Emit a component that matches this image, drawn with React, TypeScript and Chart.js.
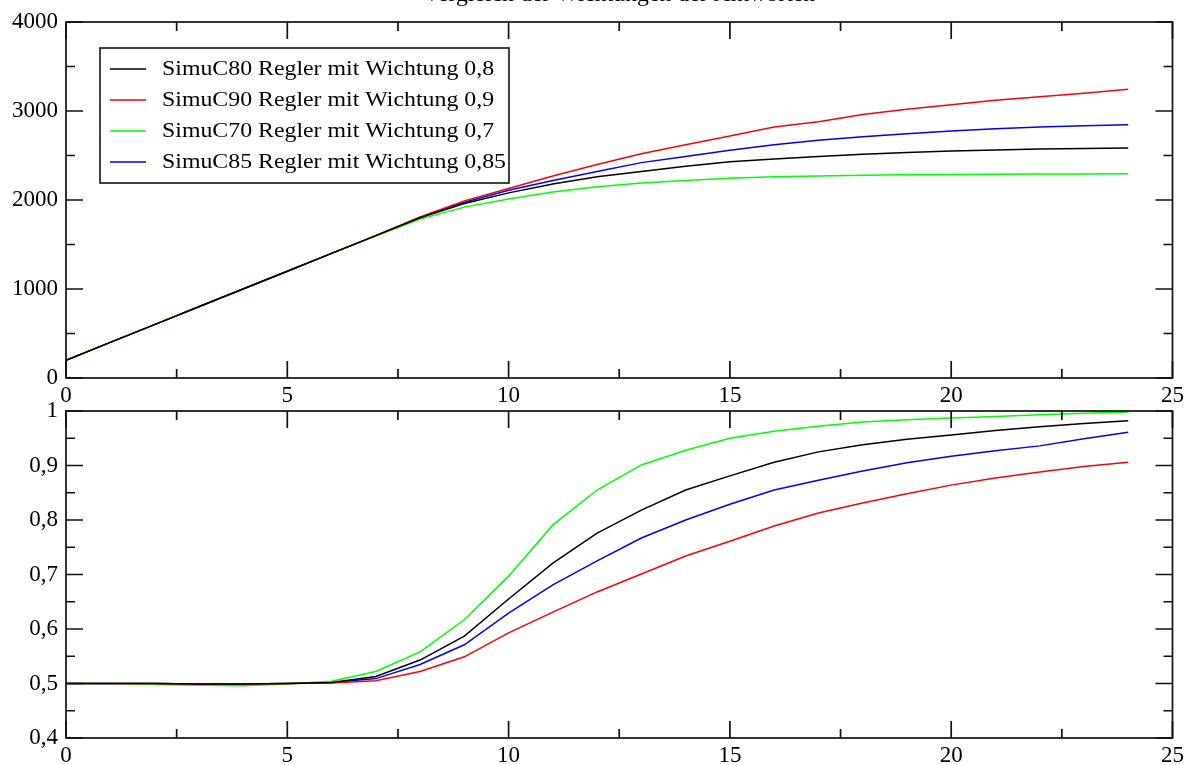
import React, { useEffect, useRef } from "react";
import { Chart, registerables } from "chart.js";

Chart.register(...registerables);

const TITLE = "Vergleich der Wichtungen der Antworten";

const xValues = [0, 1, 2, 3, 4, 5, 6, 7, 8, 9, 10, 11, 12, 13, 14, 15, 16, 17, 18, 19, 20, 21, 22, 23, 24];

const seriesLabels = [
  "SimuC80 Regler mit Wichtung 0,8",
  "SimuC90 Regler mit Wichtung 0,9",
  "SimuC70 Regler mit Wichtung 0,7",
  "SimuC85 Regler mit Wichtung 0,85",
];
const seriesColors = ["#000000", "#ff0000", "#00ff00", "#0000ff"];

// top panel
const topC80 = [200, 400, 600, 800, 1000, 1200, 1400, 1600, 1800, 1960, 2080, 2180, 2260, 2320, 2380, 2430, 2460, 2490, 2515, 2535, 2550, 2562, 2572, 2580, 2585];
const topC90 = [200, 400, 600, 800, 1000, 1200, 1400, 1600, 1810, 1990, 2130, 2270, 2400, 2520, 2620, 2720, 2820, 2880, 2960, 3020, 3070, 3120, 3160, 3200, 3245];
const topC70 = [200, 400, 600, 800, 1000, 1200, 1400, 1595, 1785, 1920, 2010, 2090, 2150, 2190, 2220, 2245, 2260, 2270, 2278, 2283, 2287, 2290, 2292, 2293, 2294];
const topC85 = [200, 400, 600, 800, 1000, 1200, 1400, 1600, 1805, 1975, 2110, 2220, 2320, 2420, 2490, 2560, 2620, 2670, 2710, 2745, 2775, 2800, 2820, 2835, 2845];

// bottom panel
const botC80 = [0.5, 0.5, 0.5, 0.499, 0.499, 0.5, 0.502, 0.513, 0.543, 0.587, 0.655, 0.721, 0.776, 0.818, 0.855, 0.881, 0.906, 0.925, 0.938, 0.948, 0.956, 0.964, 0.971, 0.977, 0.982];
const botC90 = [0.5, 0.5, 0.5, 0.499, 0.499, 0.5, 0.501, 0.505, 0.522, 0.549, 0.593, 0.631, 0.668, 0.701, 0.734, 0.761, 0.789, 0.813, 0.831, 0.848, 0.864, 0.877, 0.888, 0.898, 0.906];
const botC70 = [0.5, 0.5, 0.498, 0.497, 0.496, 0.499, 0.504, 0.522, 0.558, 0.617, 0.697, 0.791, 0.855, 0.901, 0.928, 0.95, 0.963, 0.972, 0.98, 0.984, 0.987, 0.99, 0.993, 0.996, 0.998];
const botC85 = [0.5, 0.5, 0.5, 0.499, 0.499, 0.5, 0.502, 0.509, 0.535, 0.571, 0.629, 0.681, 0.725, 0.767, 0.8, 0.829, 0.855, 0.873, 0.89, 0.905, 0.917, 0.927, 0.936, 0.949, 0.961];

const topSeries = [topC80, topC90, topC70, topC85];
const botSeries = [botC80, botC90, botC70, botC85];

const FONT = "'Liberation Serif', 'Times New Roman', serif";

const fmtTop = (v: number) => String(Math.round(v));
const fmtBot = (v: number) => String(Number(v.toFixed(2))).replace(".", ",");

const frameTicksPlugin = {
  id: "frameTicks",
  afterDatasetsDraw(chart: any) {
    const { ctx, chartArea } = chart;
    const { left, right, top, bottom } = chartArea;
    const xs = chart.scales.x;
    const ys = chart.scales.y;
    ctx.save();
    ctx.strokeStyle = "#111";
    ctx.lineWidth = 1.7;
    ctx.beginPath();
    const major = 17;
    const minor = 9;
    const xt = xs.ticks.map((t: any) => t.value);
    xt.forEach((v: number, i: number) => {
      const p = xs.getPixelForValue(v);
      ctx.moveTo(p, bottom); ctx.lineTo(p, bottom - major);
      ctx.moveTo(p, top); ctx.lineTo(p, top + major);
      if (i < xt.length - 1) {
        const m = xs.getPixelForValue((v + xt[i + 1]) / 2);
        ctx.moveTo(m, bottom); ctx.lineTo(m, bottom - minor);
        ctx.moveTo(m, top); ctx.lineTo(m, top + minor);
      }
    });
    const yt = ys.ticks.map((t: any) => t.value);
    yt.forEach((v: number, i: number) => {
      const p = ys.getPixelForValue(v);
      ctx.moveTo(left, p); ctx.lineTo(left + major, p);
      ctx.moveTo(right, p); ctx.lineTo(right - major, p);
      if (i < yt.length - 1) {
        const m = ys.getPixelForValue((v + yt[i + 1]) / 2);
        ctx.moveTo(left, m); ctx.lineTo(left + minor, m);
        ctx.moveTo(right, m); ctx.lineTo(right - minor, m);
      }
    });
    ctx.stroke();
    ctx.strokeRect(left, top, right - left, bottom - top);
    ctx.restore();
  },
};

const legendTitlePlugin = {
  id: "legendTitle",
  afterDraw(chart: any) {
    const { ctx, chartArea } = chart;
    ctx.save();
    // title (mostly cut off at the top of the page)
    ctx.fillStyle = "#000";
    ctx.font = `22px ${FONT}`;
    ctx.textAlign = "center";
    ctx.textBaseline = "alphabetic";
    ctx.save();
    ctx.translate((chartArea.left + chartArea.right) / 2, 1);
    ctx.scale(1.08, 1);
    ctx.fillText(TITLE, 0, 0);
    ctx.restore();

    // legend box
    const bx = 100, by = 48, bw = 409, bh = 135;
    ctx.fillStyle = "#fff";
    ctx.fillRect(bx, by, bw, bh);
    ctx.strokeStyle = "#222";
    ctx.lineWidth = 1.7;
    ctx.strokeRect(bx, by, bw, bh);
    chart.data.datasets.forEach((ds: any, i: number) => {
      const cy = by + 21 + i * 31;
      ctx.strokeStyle = ds.borderColor;
      ctx.lineWidth = 1.5;
      ctx.beginPath();
      ctx.moveTo(110, cy);
      ctx.lineTo(146, cy);
      ctx.stroke();
      ctx.fillStyle = "#000";
      ctx.font = `21px ${FONT}`;
      ctx.textAlign = "left";
      ctx.textBaseline = "middle";
      ctx.save();
      ctx.translate(162, cy);
      ctx.scale(1.135, 1);
      ctx.fillText(ds.label, 0, 0);
      ctx.restore();
    });
    ctx.restore();
  },
};

function buildConfig(series: number[][], yMin: number, yMax: number, yStep: number, fmt: (v: number) => string, padTop: number, xHeight: number, xPad: number, withLegend: boolean) {
  return {
    type: "line" as const,
    data: {
      datasets: series.map((vals, i) => ({
        label: seriesLabels[i],
        data: xValues.map((x, j) => ({ x, y: vals[j] })),
        borderColor: seriesColors[i],
        backgroundColor: seriesColors[i],
        borderWidth: 1.5,
        pointRadius: 0,
        tension: 0,
        fill: false,
      })),
    },
    options: {
      animation: false as const,
      responsive: false,
      devicePixelRatio: 1,
      layout: { padding: { top: padTop, right: 15, left: 0, bottom: 0 } },
      plugins: {
        legend: { display: false },
        title: { display: false },
        tooltip: { enabled: false },
      },
      scales: {
        x: {
          type: "linear" as const,
          min: 0,
          max: 25,
          grid: { display: false, drawTicks: false },
          border: { display: false },
          ticks: {
            stepSize: 5,
            color: "#000",
            padding: xPad,
            maxRotation: 0,
            font: { family: FONT, size: 23 },
            callback: (v: any) => String(v),
          },
          afterFit: (s: any) => { s.height = xHeight; },
        },
        y: {
          type: "linear" as const,
          min: yMin,
          max: yMax,
          grid: { display: false, drawTicks: false },
          border: { display: false },
          ticks: {
            stepSize: yStep,
            color: "#000",
            padding: 8,
            font: { family: FONT, size: 23 },
            callback: (v: any) => fmt(Number(v)),
          },
          afterFit: (s: any) => { s.width = 66; },
        },
      },
    },
    plugins: withLegend ? [frameTicksPlugin, legendTitlePlugin] : [frameTicksPlugin],
  };
}

export default function App() {
  const topRef = useRef<HTMLCanvasElement>(null);
  const botRef = useRef<HTMLCanvasElement>(null);

  useEffect(() => {
    // top canvas: 0..410, chart area 22..378
    const c1 = new Chart(topRef.current as HTMLCanvasElement, buildConfig(topSeries, 0, 4000, 1000, fmtTop, 22, 32, 4, true) as any);
    // bottom canvas: 380..765, chart area 411..738
    const c2 = new Chart(botRef.current as HTMLCanvasElement, buildConfig(botSeries, 0.4, 1, 0.1, fmtBot, 31, 27, 4, false) as any);
    return () => {
      c1.destroy();
      c2.destroy();
    };
  }, []);

  return (
    <div style={{ position: "absolute", left: 0, top: 0, width: 1188, height: 765, background: "#fff", overflow: "hidden" }}>
      <canvas ref={topRef} width={1188} height={410} style={{ position: "absolute", left: 0, top: 0, width: 1188, height: 410 }} />
      <canvas ref={botRef} width={1188} height={385} style={{ position: "absolute", left: 0, top: 380, width: 1188, height: 385 }} />
    </div>
  );
}
